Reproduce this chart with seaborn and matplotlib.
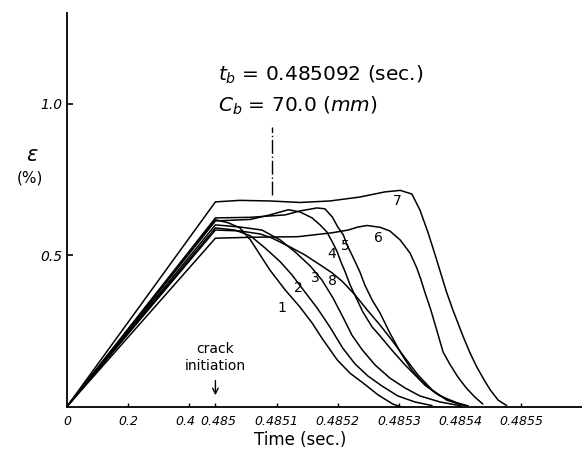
import numpy as np
import pandas as pd
import matplotlib
matplotlib.use("Agg")
import matplotlib.pyplot as plt
import matplotlib.transforms as mtransforms
import seaborn as sns

# ---------------- data ----------------
T_BREAK = 0.485          # end of the linear loading ramp (s)
TB = 0.485092            # t_b (s)
# time after T_BREAK in microseconds, strain in %
c1_us = [0, 21, 40, 57, 73, 89, 114, 138, 158, 174, 199, 220, 241, 266, 290, 302]
c1_y = [0.617, 0.607, 0.590, 0.551, 0.501, 0.451, 0.385, 0.329, 0.276, 0.226, 0.154, 0.110, 0.078, 0.038, 0.008, 0.0]

c2_us = [0, 32, 57, 81, 106, 125, 146, 166, 187, 208, 228, 249, 272, 298, 326, 354]
c2_y = [0.590, 0.583, 0.564, 0.524, 0.478, 0.435, 0.379, 0.326, 0.263, 0.193, 0.141, 0.101, 0.068, 0.035, 0.015, 0.003]

c3_us = [0, 40, 76, 106, 130, 155, 174, 192, 209, 223, 240, 261, 285, 310, 334, 367, 399]
c3_y = [0.600, 0.593, 0.583, 0.550, 0.511, 0.464, 0.418, 0.359, 0.293, 0.236, 0.187, 0.137, 0.094, 0.061, 0.035, 0.015, 0.003]

c4_us = [0, 57, 89, 119, 138, 158, 171, 182, 192, 199, 205, 212, 220, 230, 241, 256, 269, 288, 310, 334, 359, 384, 403]
c4_y = [0.613, 0.618, 0.633, 0.650, 0.643, 0.623, 0.600, 0.577, 0.540, 0.511, 0.478, 0.445, 0.402, 0.359, 0.312, 0.263, 0.233, 0.187, 0.137, 0.088, 0.045, 0.018, 0.005]

c5_us = [0, 57, 114, 138, 166, 179, 191, 200, 209, 215, 223, 230, 236, 244, 256, 269, 285, 302, 321, 342, 367, 395, 413]
c5_y = [0.623, 0.625, 0.633, 0.646, 0.656, 0.653, 0.626, 0.593, 0.567, 0.534, 0.501, 0.471, 0.445, 0.402, 0.352, 0.309, 0.243, 0.180, 0.120, 0.071, 0.035, 0.012, 0.002]

c6_us = [0, 57, 135, 191, 217, 233, 248, 269, 285, 302, 318, 329, 336, 342, 352, 362, 372, 383, 396, 410, 424, 437]
c6_y = [0.556, 0.559, 0.561, 0.574, 0.583, 0.593, 0.598, 0.592, 0.580, 0.550, 0.507, 0.458, 0.418, 0.379, 0.319, 0.250, 0.180, 0.140, 0.098, 0.061, 0.031, 0.008]

c7_us = [0, 40, 89, 138, 187, 236, 277, 302, 321, 334, 347, 359, 369, 378, 388, 405, 416, 427, 439, 449, 462, 476]
c7_y = [0.676, 0.681, 0.679, 0.674, 0.679, 0.692, 0.709, 0.714, 0.702, 0.650, 0.577, 0.501, 0.435, 0.376, 0.319, 0.230, 0.177, 0.131, 0.088, 0.055, 0.021, 0.003]

c8_us = [0, 40, 73, 92, 122, 146, 171, 191, 208, 228, 248, 269, 288, 310, 331, 354, 378, 408]
c8_y = [0.583, 0.580, 0.570, 0.557, 0.527, 0.501, 0.468, 0.441, 0.412, 0.369, 0.319, 0.269, 0.220, 0.160, 0.104, 0.055, 0.021, 0.003]

curve_names = ["1", "2", "3", "4", "5", "6", "7", "8"]
curves_us = [c1_us, c2_us, c3_us, c4_us, c5_us, c6_us, c7_us, c8_us]
curves_y = [c1_y, c2_y, c3_y, c4_y, c5_y, c6_y, c7_y, c8_y]

# curve label positions (time after T_BREAK in microseconds, strain)
label_us = [109, 135, 163, 190, 212, 266, 297, 192]
label_y = [0.326, 0.392, 0.425, 0.504, 0.531, 0.557, 0.680, 0.415]

xtick_vals = [0.0, 0.2, 0.4, 0.485, 0.4851, 0.4852, 0.4853, 0.4854, 0.4855]
xtick_labels = ["0", "0.2", "0.4", "0.485", "0.4851", "0.4852", "0.4853", "0.4854", "0.4855"]
ytick_vals = [0.5, 1.0]
ytick_labels = ["0.5", "1.0"]

rows = []
for name, us, ys in zip(curve_names, curves_us, curves_y):
    rows.append((name, 0.0, 0.0))
    for u, y in zip(us, ys):
        rows.append((name, T_BREAK + u * 1e-6, y))
df = pd.DataFrame(rows, columns=["curve", "time", "strain"])

# ---------------- plotting ----------------
sns.set_style("ticks")
plt.rcParams["font.family"] = ["DejaVu Sans"]
plt.rcParams["mathtext.fontset"] = "dejavusans"
plt.rcParams["text.color"] = "black"
plt.rcParams["xtick.color"] = "black"
plt.rcParams["ytick.color"] = "black"
plt.rcParams["axes.labelcolor"] = "black"

fig = plt.figure(figsize=(5.82, 4.54), dpi=100)
ax = fig.add_axes([67 / 582, (454 - 406.5) / 454, (582 - 67) / 582, (406.5 - 13) / 454])

SEG = 1e-4
U_BREAK = T_BREAK / 0.2


def fwd(t):
    t = np.asarray(t, dtype=float)
    return np.where(t <= T_BREAK, t / 0.2, U_BREAK + (t - T_BREAK) / SEG)


def inv(u):
    u = np.asarray(u, dtype=float)
    return np.where(u <= U_BREAK, u * 0.2, T_BREAK + (u - U_BREAK) * SEG)


ax.set_xscale("function", functions=(fwd, inv))

sns.lineplot(data=df, x="time", y="strain", units="curve", estimator=None,
             sort=False, color="black", lw=1.1, ax=ax, legend=False)

ax.set_xlim(0.0, T_BREAK + 5.99 * SEG)
ax.set_ylim(0.0, 1.30)

ax.set_xticks(xtick_vals)
ax.set_xticklabels(xtick_labels, fontstyle="italic", fontsize=9, color="black")
ax.set_yticks(ytick_vals)
ax.set_yticklabels(ytick_labels, fontstyle="italic", fontsize=10, color="black")
ax.xaxis.set_minor_locator(matplotlib.ticker.NullLocator())
ax.yaxis.set_minor_locator(matplotlib.ticker.NullLocator())
ax.tick_params(axis="x", direction="in", length=3, width=1.0, pad=6, colors="black")
ax.tick_params(axis="y", direction="in", length=4, width=1.2, pad=3, colors="black")

# nudge the two crowded labels apart
xl = ax.get_xticklabels()
xl[2].set_transform(xl[2].get_transform() + mtransforms.ScaledTranslation(-4 / 100, 0, fig.dpi_scale_trans))
xl[3].set_transform(xl[3].get_transform() + mtransforms.ScaledTranslation(3 / 100, 0, fig.dpi_scale_trans))

for side in ["top", "right"]:
    ax.spines[side].set_visible(False)
for side in ["left", "bottom"]:
    ax.spines[side].set_linewidth(1.3)
    ax.spines[side].set_color("black")
ax.set_xlabel("")
ax.set_ylabel("")

# curve labels
for name, u, y in zip(curve_names, label_us, label_y):
    ax.text(T_BREAK + u * 1e-6, y, name, fontsize=10, ha="center", va="center", color="black")

# t_b marker
ax.plot([TB, TB], [0.70, 0.925], color="black", lw=1.0, linestyle=(0, (10, 2, 1, 2)))
ax.text(T_BREAK + 5e-6, 1.096, r"$t_b$ = 0.485092 (sec.)", fontsize=14.5, ha="left", va="center", color="black")
ax.text(T_BREAK + 5e-6, 0.992, r"$C_b$ = 70.0 ($mm$)", fontsize=14.5, ha="left", va="center", color="black")

# crack initiation
ax.text(T_BREAK, 0.19, "crack", fontsize=10, ha="center", va="center", color="black")
ax.text(T_BREAK, 0.135, "initiation", fontsize=10, ha="center", va="center", color="black")
ax.annotate("", xy=(T_BREAK, 0.028), xytext=(T_BREAK, 0.095),
            arrowprops=dict(arrowstyle="->", color="black", lw=1.0))

# axis labels
fig.text(32 / 582, 1 - 155 / 454, r"$\varepsilon$", fontsize=15, ha="center", va="center", color="black")
fig.text(30 / 582, 1 - 178 / 454, "(%)", fontsize=11, ha="center", va="center", color="black")
fig.text(300 / 582, 1 - 440 / 454, "Time (sec.)", fontsize=12, ha="center", va="center", color="black")

fig.savefig("out.png", dpi=100)
